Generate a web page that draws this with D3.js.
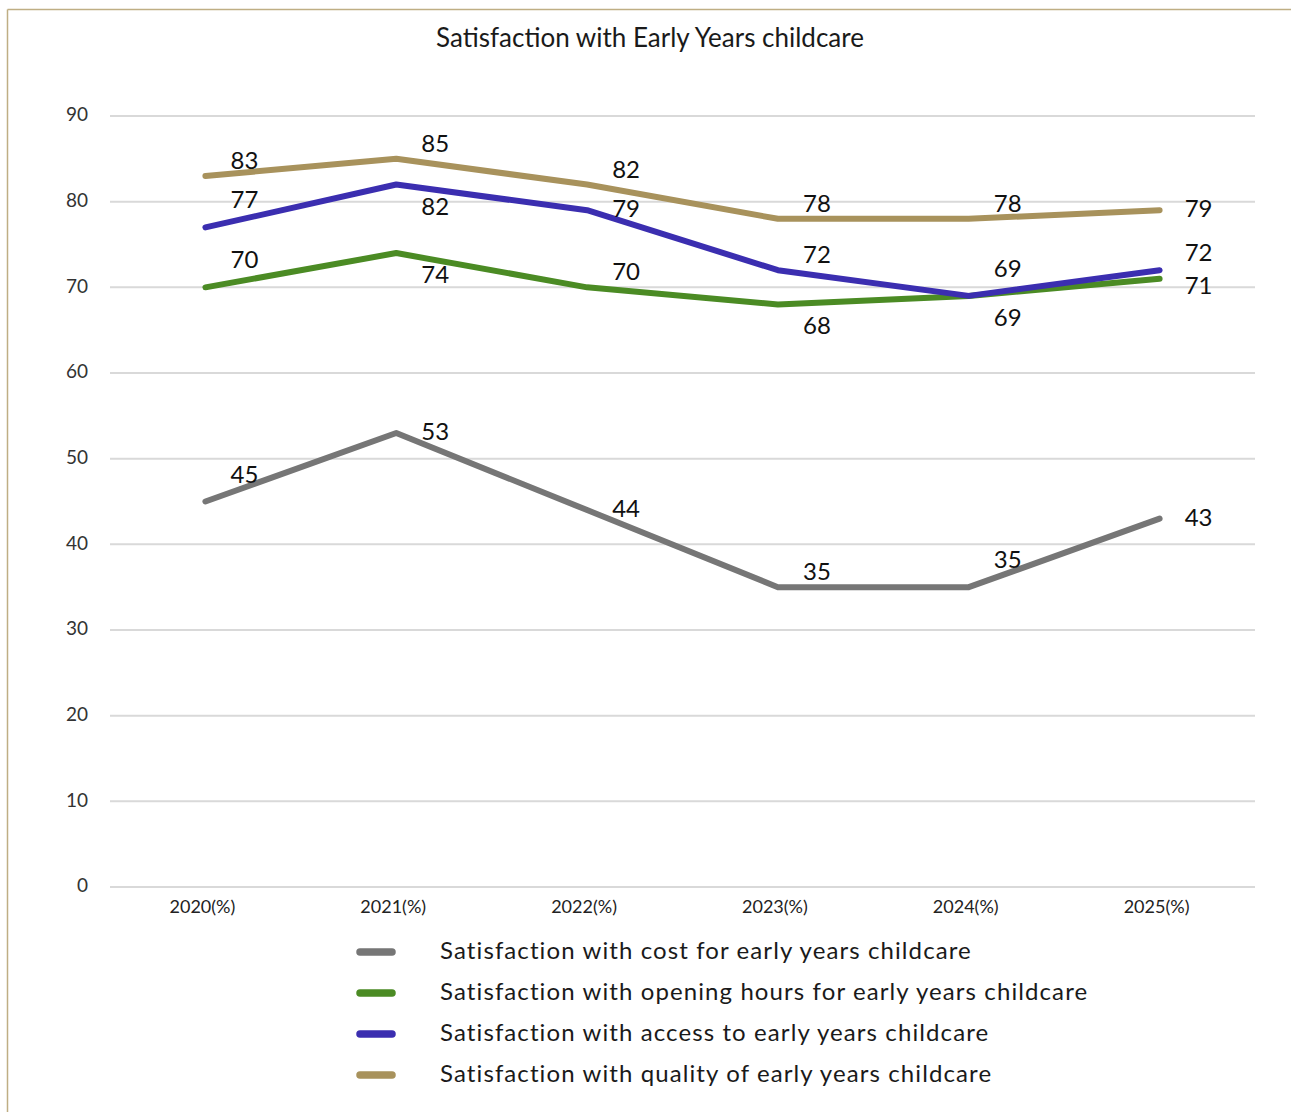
<!DOCTYPE html>
<html>
<head>
<meta charset="utf-8">
<script src="https://cdn.jsdelivr.net/npm/d3@7"></script>
<style>
  html, body { margin: 0; padding: 0; background: #fff; }
  svg { display: block; font-family: Lato, "Open Sans", "Noto Sans", sans-serif; }
</style>
</head>
<body>
<svg id="chart" width="1291" height="1112"></svg>
<script>
// Survey years on the x axis
const years = ["2020(%)", "2021(%)", "2022(%)", "2023(%)", "2024(%)", "2025(%)"];

// Series values (percent satisfied)
const costValues    = [45, 53, 44, 35, 35, 43];
const hoursValues   = [70, 74, 70, 68, 69, 71];
const accessValues  = [77, 82, 79, 72, 69, 72];
const qualityValues = [83, 85, 82, 78, 78, 79];

// Series names as shown in the legend
const seriesNames = [
  "Satisfaction with cost for early years childcare",
  "Satisfaction with opening hours for early years childcare",
  "Satisfaction with access to early years childcare",
  "Satisfaction with quality of early years childcare"
];

const yTicks = [0, 10, 20, 30, 40, 50, 60, 70, 80, 90];

// Styling and label placement per series
const colors = ["#767676", "#4b8b24", "#3b2eb0", "#a8925c"];
const labelPlacement = [
  ["high",  "right", "right", "above", "high",  "right"],
  ["high",  "below", "above", "below", "below", "rightLow"],
  ["high",  "below", "right", "above", "high",  "aboveHigh"],
  ["above", "above", "above", "above", "above", "right"]
];

const series = [costValues, hoursValues, accessValues, qualityValues].map((vals, i) => ({
  name: seriesNames[i], color: colors[i], values: vals, placement: labelPlacement[i]
}));

const svg = d3.select("#chart");
const W = 1291, H = 1112;

// Frame lines along top and left
svg.append("line").attr("x1", 7.5).attr("x2", W).attr("y1", 9.5).attr("y2", 9.5)
  .attr("stroke", "#bfae84").attr("stroke-width", 1.5);
svg.append("line").attr("x1", 7.5).attr("x2", 7.5).attr("y1", 9.5).attr("y2", H)
  .attr("stroke", "#bfae84").attr("stroke-width", 1.5);

// Title
svg.append("text").attr("x", 650).attr("y", 47).attr("text-anchor", "middle")
  .attr("font-size", 26).attr("fill", "#1a1a1a")
  .text("Satisfaction with Early Years childcare");

const plotLeft = 110, plotRight = 1255, plotTop = 116, plotBottom = 887;

const x = d3.scaleBand().domain(years).range([plotLeft, plotRight]);
const y = d3.scaleLinear().domain([0, 90]).range([plotBottom, plotTop]);
const cx = d => x(d) + x.bandwidth() / 2;

// Gridlines
svg.append("g").selectAll("line").data(yTicks).join("line")
  .attr("x1", plotLeft).attr("x2", plotRight)
  .attr("y1", d => y(d)).attr("y2", d => y(d))
  .attr("stroke", "#d9d9d9").attr("stroke-width", 2);

// Y axis labels
const yAxis = svg.append("g").attr("transform", `translate(${plotLeft - 22},0)`)
  .call(d3.axisLeft(y).tickValues(yTicks).tickSize(0).tickPadding(0));
yAxis.select(".domain").remove();
yAxis.selectAll("text").attr("font-size", 19).attr("fill", "#333")
  .attr("font-family", "Lato, 'Open Sans', sans-serif").attr("dy", "0.25em");

// X axis labels
const xAxis = svg.append("g").attr("transform", `translate(-3,${plotBottom})`)
  .call(d3.axisBottom(x).tickSize(0).tickPadding(13));
xAxis.select(".domain").remove();
xAxis.selectAll("text").attr("font-size", 18).attr("fill", "#222")
  .attr("font-family", "Lato, 'Open Sans', sans-serif");

// Series lines
const line = d3.line().x((d, i) => cx(years[i])).y(d => y(d));
svg.append("g").selectAll("path").data(series).join("path")
  .attr("d", s => line(s.values))
  .attr("fill", "none").attr("stroke", s => s.color)
  .attr("stroke-width", 6).attr("stroke-linecap", "round").attr("stroke-linejoin", "round");

// Data labels (baseline offsets from the point)
const offsets = { high: -19, above: -7, aboveHigh: -9, below: 30, right: 7, rightLow: 15 };
series.forEach(s => {
  svg.append("g").selectAll("text").data(s.values).join("text")
    .attr("x", (d, i) => cx(years[i]) + 39)
    .attr("y", (d, i) => y(d) + offsets[s.placement[i]])
    .attr("text-anchor", "middle").attr("font-size", 24).attr("fill", "#111")
    .text(d => d);
});

// Legend
const legend = svg.append("g");
series.forEach((s, i) => {
  const ly = 950 + i * 41;
  legend.append("line").attr("x1", 360).attr("x2", 392).attr("y1", ly + 2).attr("y2", ly + 2)
    .attr("stroke", s.color).attr("stroke-width", 7.5).attr("stroke-linecap", "round");
  legend.append("text").attr("x", 440).attr("y", ly + 9).attr("font-size", 24)
    .attr("letter-spacing", 1.1).attr("fill", "#1a1a1a").text(s.name);
});
</script>
</body>
</html>
